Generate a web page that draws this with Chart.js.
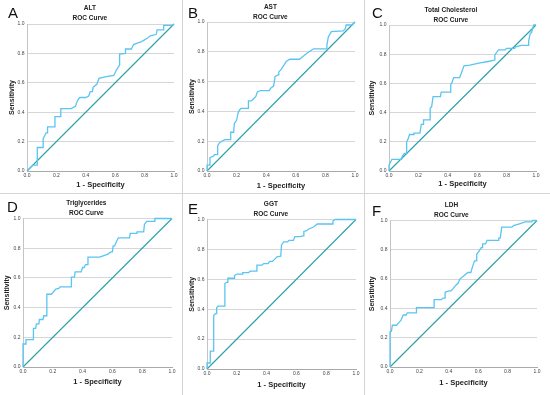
<!DOCTYPE html>
<html lang="en">
<head>
<meta charset="UTF-8">
<title>ROC Curves</title>
<script src="https://cdn.jsdelivr.net/npm/chart.js"></script>
<style>
  body { margin: 0; background: #fff; font-family: 'Liberation Sans', Arial, sans-serif; }
  #page { position: relative; width: 550px; height: 395px; overflow: hidden; }
  .panel { position: absolute; }
  .panel canvas { position: absolute; left: 0; top: 0; }
  .letter { position: absolute; font-size: 15px; line-height: 1; color: #111; }
  .sep { position: absolute; background: #d4d4d4; }
</style>
</head>
<body>
<div id="page">
  <div class="sep" style="left:182px;top:0;width:1px;height:395px"></div>
  <div class="sep" style="left:364px;top:0;width:1px;height:395px"></div>
  <div class="sep" style="left:0;top:193px;width:550px;height:1px"></div>
</div>
<script>
// panel letters and marker names
const letters = ['A', 'B', 'C', 'D', 'E', 'F'];
const markers = ['ALT', 'AST', 'Total Cholesterol', 'Triglycerides', 'GGT', 'LDH'];
const axisTicks = [0.0, 0.2, 0.4, 0.6, 0.8, 1.0];

// ROC points as [1 - specificity, sensitivity]
const altRoc = [[0,0],[0.04,0.04],[0.07,0.04],[0.07,0.16],[0.11,0.16],[0.11,0.22],[0.13,0.26],[0.14,0.26],[0.14,0.30],[0.19,0.30],[0.19,0.37],[0.23,0.37],[0.23,0.425],[0.30,0.425],[0.33,0.44],[0.34,0.47],[0.35,0.49],[0.36,0.50],[0.40,0.50],[0.42,0.51],[0.43,0.54],[0.445,0.54],[0.45,0.57],[0.475,0.59],[0.49,0.63],[0.53,0.64],[0.59,0.65],[0.61,0.69],[0.63,0.72],[0.63,0.795],[0.67,0.80],[0.67,0.83],[0.71,0.83],[0.725,0.86],[0.75,0.87],[0.78,0.88],[0.82,0.905],[0.84,0.92],[0.88,0.93],[0.885,0.96],[0.93,0.96],[0.93,0.99],[0.99,0.99],[1,1]];
const astRoc = [[0,0],[0,0.04],[0.02,0.04],[0.02,0.09],[0.045,0.10],[0.05,0.11],[0.07,0.11],[0.072,0.17],[0.085,0.19],[0.10,0.20],[0.12,0.21],[0.16,0.21],[0.16,0.26],[0.18,0.26],[0.185,0.32],[0.20,0.34],[0.21,0.39],[0.22,0.41],[0.23,0.42],[0.28,0.42],[0.28,0.47],[0.30,0.47],[0.31,0.48],[0.33,0.50],[0.34,0.53],[0.36,0.54],[0.42,0.54],[0.43,0.555],[0.45,0.57],[0.455,0.60],[0.46,0.635],[0.48,0.645],[0.485,0.665],[0.50,0.68],[0.52,0.71],[0.535,0.735],[0.56,0.75],[0.625,0.75],[0.65,0.77],[0.675,0.79],[0.705,0.81],[0.72,0.82],[0.81,0.82],[0.81,0.845],[0.82,0.90],[0.84,0.935],[0.92,0.94],[0.935,0.955],[0.94,0.98],[0.98,0.98],[1,1]];
const cholRoc = [[0,0],[0,0.04],[0.02,0.08],[0.085,0.08],[0.09,0.10],[0.105,0.12],[0.12,0.12],[0.12,0.20],[0.13,0.22],[0.14,0.25],[0.165,0.25],[0.17,0.26],[0.21,0.26],[0.22,0.32],[0.235,0.32],[0.235,0.35],[0.28,0.35],[0.28,0.43],[0.29,0.44],[0.30,0.51],[0.35,0.51],[0.355,0.54],[0.415,0.54],[0.42,0.59],[0.43,0.61],[0.44,0.64],[0.48,0.64],[0.49,0.665],[0.51,0.72],[0.55,0.725],[0.62,0.74],[0.675,0.75],[0.72,0.76],[0.72,0.795],[0.745,0.83],[0.79,0.83],[0.80,0.84],[0.855,0.84],[0.86,0.85],[0.90,0.86],[0.95,0.86],[0.95,0.89],[0.96,0.94],[0.97,0.95],[0.985,1.0],[1,1]];
const trigRoc = [[0,0],[0,0.155],[0.02,0.155],[0.02,0.185],[0.07,0.185],[0.07,0.26],[0.085,0.26],[0.09,0.29],[0.107,0.29],[0.11,0.32],[0.134,0.32],[0.14,0.345],[0.157,0.345],[0.16,0.49],[0.19,0.49],[0.20,0.50],[0.22,0.525],[0.24,0.53],[0.25,0.54],[0.325,0.54],[0.325,0.605],[0.345,0.605],[0.35,0.64],[0.39,0.64],[0.40,0.67],[0.41,0.67],[0.42,0.69],[0.43,0.69],[0.436,0.74],[0.515,0.74],[0.57,0.76],[0.59,0.775],[0.60,0.775],[0.605,0.815],[0.615,0.815],[0.625,0.84],[0.64,0.87],[0.715,0.87],[0.72,0.90],[0.76,0.90],[0.765,0.91],[0.81,0.91],[0.815,0.96],[0.83,0.98],[0.885,0.98],[0.885,1.0],[1,1]];
const ggtRoc = [[0,0],[0,0.04],[0.022,0.04],[0.022,0.12],[0.045,0.12],[0.045,0.36],[0.056,0.37],[0.063,0.37],[0.065,0.41],[0.074,0.42],[0.116,0.42],[0.12,0.57],[0.13,0.58],[0.138,0.58],[0.14,0.607],[0.183,0.607],[0.185,0.625],[0.20,0.635],[0.235,0.635],[0.24,0.645],[0.28,0.645],[0.29,0.655],[0.33,0.655],[0.335,0.695],[0.37,0.695],[0.38,0.705],[0.41,0.705],[0.42,0.72],[0.44,0.72],[0.47,0.75],[0.495,0.755],[0.50,0.83],[0.515,0.85],[0.54,0.85],[0.55,0.86],[0.58,0.86],[0.59,0.885],[0.625,0.885],[0.645,0.89],[0.65,0.92],[0.67,0.925],[0.68,0.935],[0.715,0.95],[0.74,0.97],[0.84,0.97],[0.845,0.99],[0.86,1.0],[1,1]];
const ldhRoc = [[0,0],[0,0.24],[0.01,0.245],[0.016,0.285],[0.045,0.285],[0.057,0.30],[0.075,0.32],[0.09,0.355],[0.11,0.355],[0.118,0.37],[0.18,0.37],[0.18,0.405],[0.30,0.405],[0.30,0.46],[0.35,0.46],[0.36,0.47],[0.375,0.47],[0.375,0.51],[0.40,0.52],[0.415,0.52],[0.43,0.535],[0.445,0.555],[0.465,0.575],[0.475,0.60],[0.505,0.625],[0.53,0.645],[0.55,0.645],[0.56,0.68],[0.575,0.725],[0.59,0.725],[0.59,0.77],[0.605,0.79],[0.62,0.815],[0.628,0.815],[0.63,0.84],[0.65,0.84],[0.66,0.865],[0.74,0.865],[0.74,0.88],[0.75,0.88],[0.76,0.955],[0.83,0.955],[0.84,0.965],[0.875,0.975],[0.92,0.99],[0.965,0.99],[0.97,1.0],[1,1]];
const chanceLine = [[0,0],[1,1]];

const rocSeries = [altRoc, astRoc, cholRoc, trigRoc, ggtRoc, ldhRoc];

// where each panel sits on the page (pixels)
const layout = [
  { left: 0,   top: 0,   width: 182, area: [27, 24, 174, 171], yTitleX: 12, titleY: 8.5,  xTitleY: 185, letter: [8, 5] },
  { left: 182, top: 0,   width: 182, area: [25, 22, 173, 171], yTitleX: 10, titleY: 7,    xTitleY: 186, letter: [6, 5] },
  { left: 364, top: 0,   width: 186, area: [25, 24, 172, 171], yTitleX: 8,  titleY: 10,   xTitleY: 184, letter: [8, 5] },
  { left: 0,   top: 195, width: 182, area: [23, 22, 172, 172], yTitleX: 7,  titleY: 8.5,  xTitleY: 187, letter: [7, 4] },
  { left: 182, top: 195, width: 182, area: [25, 24, 174, 174], yTitleX: 10, titleY: 9.5,  xTitleY: 190, letter: [6, 6] },
  { left: 364, top: 195, width: 186, area: [26, 24, 173, 172], yTitleX: 8,  titleY: 10.5, xTitleY: 188, letter: [8, 8] }
];

const FONT = "'Liberation Sans', Arial, sans-serif";
const page = document.getElementById('page');

layout.forEach((p, i) => {
  const div = document.createElement('div');
  div.className = 'panel';
  div.style.left = p.left + 'px';
  div.style.top = p.top + 'px';
  const height = p.xTitleY + 8;
  div.style.width = p.width + 'px';
  div.style.height = height + 'px';

  const canvas = document.createElement('canvas');
  canvas.width = p.width;
  canvas.height = height;
  div.appendChild(canvas);

  const lab = document.createElement('div');
  lab.className = 'letter';
  lab.style.left = p.letter[0] + 'px';
  lab.style.top = p.letter[1] + 'px';
  lab.textContent = letters[i];
  div.appendChild(lab);
  page.appendChild(div);

  const [aL, aT, aR, aB] = p.area;
  const padLeft = Math.max(0, p.yTitleX - 6.2);
  const yAxisW = aL - padLeft;
  const xAxisH = height - aB;

  new Chart(canvas, {
    type: 'line',
    data: {
      datasets: [
        {
          data: rocSeries[i].map(d => ({ x: d[0], y: d[1] })),
          borderColor: '#5ac4f2',
          borderWidth: 1.3,
          pointRadius: 0,
          fill: false,
          tension: 0,
          clip: false
        },
        {
          data: chanceLine.map(d => ({ x: d[0], y: d[1] })),
          borderColor: '#2aa0a8',
          borderWidth: 1.1,
          pointRadius: 0,
          fill: false,
          clip: false
        }
      ]
    },
    options: {
      responsive: false,
      animation: false,
      devicePixelRatio: 1,
      layout: { padding: { left: padLeft, right: p.width - aR, top: 0, bottom: 0 } },
      plugins: {
        legend: { display: false },
        tooltip: { enabled: false },
        title: {
          display: true,
          text: [markers[i], 'ROC Curve'],
          color: '#222',
          font: { family: FONT, size: 6.5, weight: 'bold', lineHeight: '10px' },
          padding: { top: p.titleY - 5, bottom: Math.max(0, aT - p.titleY - 15) }
        }
      },
      scales: {
        x: {
          type: 'linear',
          min: 0,
          max: 1,
          afterBuildTicks: s => { s.ticks = axisTicks.map(v => ({ value: v })); },
          afterFit: s => { s.height = xAxisH; s.paddingLeft = 0; s.paddingRight = 0; },
          grid: { display: false, drawTicks: false },
          border: { color: '#a9a9a9', width: 1 },
          ticks: {
            padding: 1.5,
            maxRotation: 0,
            color: '#444',
            font: { family: FONT, size: 5 },
            callback: v => Number(v).toFixed(1)
          },
          title: {
            display: true,
            text: '1 - Specificity',
            color: '#222',
            font: { family: FONT, size: 7.5, weight: 'bold', lineHeight: 1.2 },
            padding: { top: 0, bottom: 3.5 }
          }
        },
        y: {
          type: 'linear',
          min: 0,
          max: 1,
          afterBuildTicks: s => { s.ticks = axisTicks.map(v => ({ value: v })); },
          afterFit: s => { s.width = yAxisW; s.paddingTop = 0; s.paddingBottom = 0; },
          grid: { color: '#d6d6d6', lineWidth: 1, drawTicks: false },
          border: { color: '#c4c4c4', width: 1 },
          ticks: {
            padding: 2.5,
            color: '#444',
            font: { family: FONT, size: 5 },
            callback: v => Number(v).toFixed(1)
          },
          title: {
            display: true,
            text: 'Sensitivity',
            color: '#222',
            font: { family: FONT, size: 7, weight: 'bold', lineHeight: 1.2 },
            padding: { top: 2, bottom: 0 }
          }
        }
      }
    }
  });
});
</script>
</body>
</html>
